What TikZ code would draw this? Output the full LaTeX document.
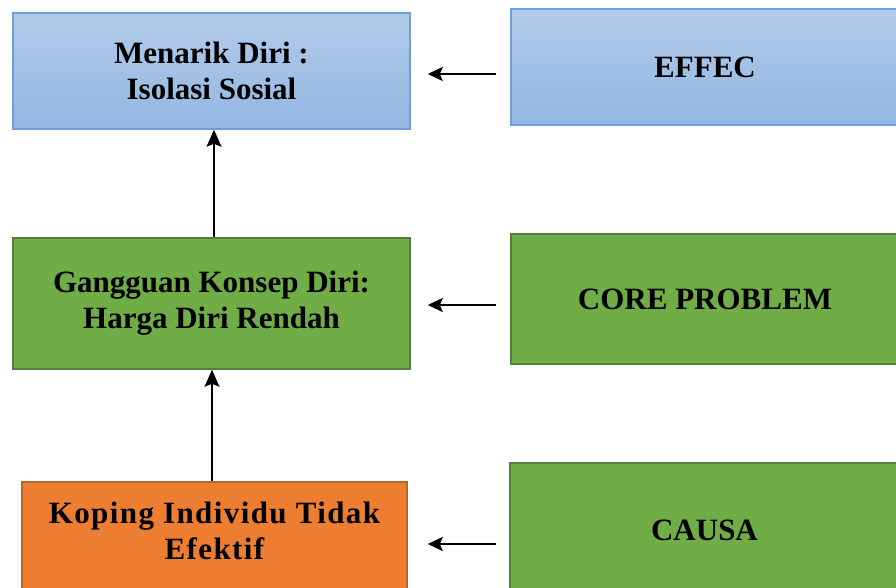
\documentclass[tikz,border=0pt]{standalone}
\usepackage{fontspec}
\setmainfont{Liberation Serif}
\usetikzlibrary{arrows.meta}
\definecolor{bluetop}{HTML}{B2CBEA}
\definecolor{bluebot}{HTML}{93B7E2}
\definecolor{blueline}{HTML}{6EA0D7}
\definecolor{grn}{HTML}{70AD47}
\definecolor{grnline}{HTML}{52803A}
\definecolor{org}{HTML}{ED7D31}
\definecolor{orgline}{HTML}{B8652C}
\tikzset{
  x=1pt,y=-1pt,
  boxbase/.style={rectangle,inner sep=0pt,align=center,line width=1.5pt,
    font=\fontsize{31}{36}\selectfont\bfseries},
  bluebox/.style={boxbase,draw=blueline,top color=bluetop,bottom color=bluebot},
  greenbox/.style={boxbase,draw=grnline,fill=grn},
  orangebox/.style={boxbase,draw=orgline,fill=org},
  boxtext/.style={align=center,inner sep=0pt,font=\fontsize{31}{36}\selectfont\bfseries},
  harr/.style={line width=2pt,-{Stealth[length=15pt,width=14pt,inset=3pt]}},
  varr/.style={line width=1.3pt,-{Stealth[length=17pt,width=15pt,inset=3pt]}}
}
\begin{document}
\begin{tikzpicture}
\useasboundingbox (0,0) rectangle (896,587);
\clip (0,0) rectangle (896,587);
\node[bluebox,minimum width=397pt,minimum height=116pt] (A) at (211.5,71) {Menarik Diri :\\Isolasi Sosial};
\node[bluebox,minimum width=388pt,minimum height=116pt] (E) at (705,67) {EFFEC};
\node[greenbox,minimum width=397pt,minimum height=131pt] (B) at (211.5,303.5) {Gangguan Konsep Diri:\\Harga Diri Rendah};
\node[greenbox,minimum width=388pt,minimum height=130pt] (P) at (705,299) {CORE PROBLEM};
\node[orangebox,minimum width=385pt,minimum height=120pt] (C) at (214.5,542) {};
\node[boxtext] (Ct) at (214.5,531) {\addfontfeature{LetterSpace=4.5}Koping Individu Tidak\\\addfontfeature{LetterSpace=4.5}Efektif};
\node[greenbox,minimum width=389pt,minimum height=134pt] (K) at (704.5,530) {CAUSA};
\draw[harr,shorten <=14pt,shorten >=17pt] ([yshift=-7pt]E.west) -- ([yshift=-7pt]E.west -| A.east);
\draw[harr,shorten <=14pt,shorten >=17pt] ([yshift=-6pt]P.west) -- ([yshift=-6pt]P.west -| B.east);
\draw[harr,shorten <=13pt,shorten >=20pt] ([yshift=-14pt]K.west) -- ([yshift=-14pt]K.west -| C.east);
\draw[varr] ([xshift=2.5pt]B.north) -- ([xshift=2.5pt]A.south);
\draw[varr] ([xshift=-2.5pt]C.north) -- ([xshift=0.5pt]B.south);
\end{tikzpicture}
\end{document}
